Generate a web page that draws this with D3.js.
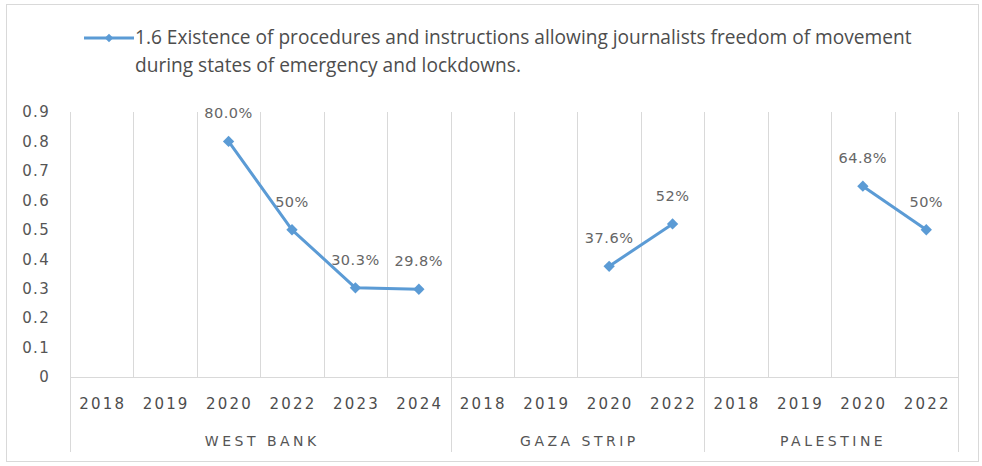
<!DOCTYPE html>
<html>
<head>
<meta charset="utf-8">
<script src="https://cdn.jsdelivr.net/npm/d3@7"></script>
<style>
  body { margin: 0; background: #fff; }
  text { font-family: "DejaVu Sans", sans-serif; fill: #555; }
</style>
</head>
<body>
<div id="container"></div>
<script>
const legendLines = ['1.6 Existence of procedures and instructions allowing journalists freedom of movement',
                     'during states of emergency and lockdowns.'];
const groups = ['WEST BANK', 'GAZA STRIP', 'PALESTINE'];
const years = [['2018', '2019', '2020', '2022', '2023', '2024'],
               ['2018', '2019', '2020', '2022'],
               ['2018', '2019', '2020', '2022']];
const values = [[null, null, 0.80, 0.50, 0.303, 0.298],
                [null, null, 0.376, 0.52],
                [null, null, 0.648, 0.50]];
const labels = [[null, null, '80.0%', '50%', '30.3%', '29.8%'],
                [null, null, '37.6%', '52%'],
                [null, null, '64.8%', '50%']];
const yTicks = [0, 0.1, 0.2, 0.3, 0.4, 0.5, 0.6, 0.7, 0.8, 0.9];

const w = 982;
const h = 466;
const plotLeft = 70, plotRight = 958, plotTop = 112, plotBottom = 377;
const grid = '#d9d9d9';
const blue = '#5b9bd5';

const svg = d3.select('#container')
              .append('svg')
              .attr('width', w)
              .attr('height', h);

// outer frame
svg.append('rect')
   .attr('x', 6.5).attr('y', 4.5)
   .attr('width', 972).attr('height', 457)
   .attr('fill', '#fff')
   .attr('stroke', grid);

// one band per group/year pair
const cats = [];
groups.forEach((g, gi) => years[gi].forEach((y, i) => {
  cats.push({ key: g + '|' + y, group: g, gi: gi, year: y, v: values[gi][i], label: labels[gi][i] });
}));

const xScale = d3.scaleBand()
                 .domain(cats.map((d) => d.key))
                 .range([plotLeft, plotRight])
                 .padding(0);
const yScale = d3.scaleLinear()
                 .domain([0, 0.9])
                 .range([plotBottom, plotTop]);

// vertical gridlines at band edges
const edges = cats.map((d) => xScale(d.key)).concat([plotRight]);
svg.selectAll('.grid')
   .data(edges)
   .enter()
   .append('line')
   .attr('class', 'grid')
   .attr('x1', (d) => Math.round(d) + 0.5).attr('x2', (d) => Math.round(d) + 0.5)
   .attr('y1', plotTop).attr('y2', plotBottom)
   .attr('stroke', grid);

// group dividers run down through the label rows
const groupEdges = [plotLeft];
groups.forEach((g, gi) => {
  const last = cats.filter((d) => d.gi === gi).pop();
  groupEdges.push(xScale(last.key) + xScale.bandwidth());
});
svg.selectAll('.gdiv')
   .data(groupEdges)
   .enter()
   .append('line')
   .attr('class', 'gdiv')
   .attr('x1', (d) => Math.round(d) + 0.5).attr('x2', (d) => Math.round(d) + 0.5)
   .attr('y1', plotBottom).attr('y2', 452)
   .attr('stroke', grid);

svg.append('line')
   .attr('x1', plotLeft).attr('x2', plotRight + 1)
   .attr('y1', plotBottom + 0.5).attr('y2', plotBottom + 0.5)
   .attr('stroke', grid);

// y axis, labels only
const yAxis = d3.axisLeft(yScale)
                .tickValues(yTicks)
                .tickSize(0)
                .tickPadding(0)
                .tickFormat((d) => d === 0 ? '0' : d3.format('.1f')(d));
const gy = svg.append('g')
              .attr('transform', 'translate(' + 50 + ',0)')
              .call(yAxis);
gy.select('.domain').remove();
gy.selectAll('text')
  .style('font-family', '"DejaVu Sans", sans-serif')
  .style('font-size', '15px')
  .style('letter-spacing', '1.3px')
  .attr('fill', '#555');

// year labels
svg.selectAll('.year')
   .data(cats)
   .enter()
   .append('text')
   .attr('class', 'year')
   .attr('x', (d) => xScale(d.key) + xScale.bandwidth() / 2 + 1)
   .attr('y', 409)
   .attr('text-anchor', 'middle')
   .style('font-size', '15px')
   .style('letter-spacing', '2.2px')
   .style('fill', '#4d4d4d')
   .text((d) => d.year);

// group labels
svg.selectAll('.group')
   .data(groups)
   .enter()
   .append('text')
   .attr('class', 'group')
   .attr('x', (d, i) => (groupEdges[i] + groupEdges[i + 1]) / 2 + 2)
   .attr('y', 446)
   .attr('text-anchor', 'middle')
   .style('font-size', '14px')
   .style('letter-spacing', '3.5px')
   .text((d) => d);

// data labels (drawn before the line, the line passes over them)
const pts = cats.filter((d) => d.v !== null);
svg.selectAll('.dlabel')
   .data(pts)
   .enter()
   .append('text')
   .attr('class', 'dlabel')
   .attr('x', (d) => xScale(d.key) + xScale.bandwidth() / 2)
   .attr('y', (d) => yScale(d.v) - 23)
   .attr('text-anchor', 'middle')
   .style('font-size', '14.5px')
   .style('letter-spacing', '0.5px')
   .style('fill', '#666')
   .text((d) => d.label);

// series lines per group
const line = d3.line()
               .defined((d) => d.v !== null)
               .x((d) => xScale(d.key) + xScale.bandwidth() / 2)
               .y((d) => yScale(d.v));
groups.forEach((g, gi) => {
  svg.append('path')
     .datum(cats.filter((d) => d.gi === gi))
     .attr('d', line)
     .attr('fill', 'none')
     .attr('stroke', blue)
     .attr('stroke-width', 3)
     .attr('stroke-linejoin', 'round');
});

const diamond = d3.symbol().type(d3.symbolSquare).size(64);
svg.selectAll('.marker')
   .data(pts)
   .enter()
   .append('path')
   .attr('class', 'marker')
   .attr('d', diamond)
   .attr('transform', (d) => 'translate(' + (xScale(d.key) + xScale.bandwidth() / 2) + ',' + yScale(d.v) + ') rotate(45)')
   .attr('fill', blue);

// legend
svg.append('line')
   .attr('x1', 84).attr('x2', 134)
   .attr('y1', 38).attr('y2', 38)
   .attr('stroke', blue)
   .attr('stroke-width', 3);
svg.append('path')
   .attr('d', d3.symbol().type(d3.symbolSquare).size(36))
   .attr('transform', 'translate(109,38) rotate(45)')
   .attr('fill', blue);

const leg = svg.selectAll('.legend')
   .data(legendLines)
   .enter()
   .append('text')
   .attr('class', 'legend')
   .attr('x', 135)
   .attr('y', (d, i) => 44 + i * 28)
   .style('font-family', '"Open Sans", sans-serif')
   .style('font-size', '17px')
   .style('fill', '#4d4d4d')
   .text((d) => d);

// fit the first legend line to the original width
const natural = leg.node().getComputedTextLength();
const fs = 17 * 777 / natural;
leg.style('font-size', fs + 'px');
</script>
</body>
</html>
